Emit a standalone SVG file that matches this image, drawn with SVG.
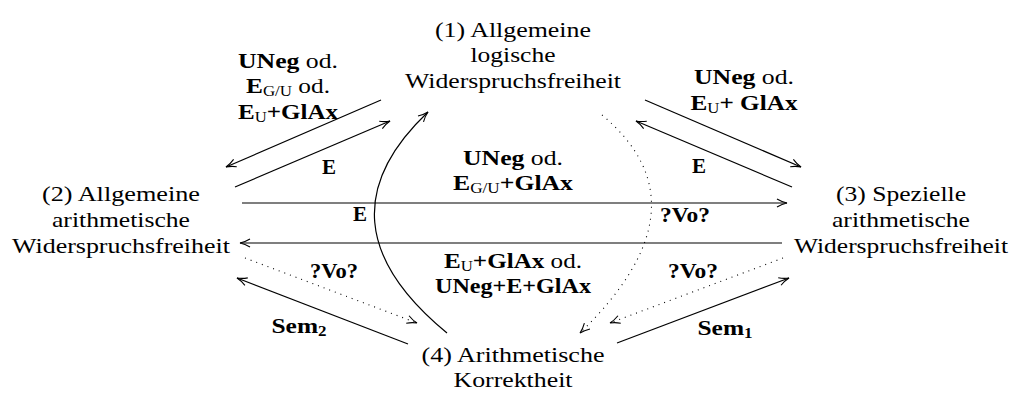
<svg xmlns="http://www.w3.org/2000/svg" width="1019" height="396" viewBox="0 0 1019 396">
<style>
.n{font-family:"Liberation Serif",serif;font-size:22px;text-anchor:middle;fill:#000}
.l{font-family:"Liberation Serif",serif;font-size:21px;font-weight:bold;text-anchor:middle;fill:#000}
.r{font-weight:normal}
.s{font-size:14px}
.ln{stroke:#000;stroke-width:1.2;fill:none}
.dt{stroke:#000;stroke-width:1.1;stroke-dasharray:1 5;fill:none}
</style>
<defs>
<marker id="ah" viewBox="0 0 12 10" refX="11" refY="5" markerWidth="12" markerHeight="10" orient="auto" markerUnits="userSpaceOnUse">
<path d="M1,1 Q6,4 11,5 Q6,6 1,9" fill="none" stroke="#000" stroke-width="1.1"/>
</marker>
</defs>
<rect width="1019" height="396" fill="#fff"/>
<g id="connectors">
<path class="ln" d="M381,100 L226,167" marker-end="url(#ah)"/>
<path class="ln" d="M235,187 L390,121" marker-end="url(#ah)"/>
<path class="ln" d="M645,100 L801,167" marker-end="url(#ah)"/>
<path class="ln" d="M792,187 L636,121" marker-end="url(#ah)"/>
<path class="ln" d="M242,203 L787,203" marker-end="url(#ah)"/>
<path class="ln" d="M782,243 L240,243" marker-end="url(#ah)"/>
<path class="ln" d="M447,333 Q312,222 428,112" marker-end="url(#ah)"/>
<path class="dt" d="M602,115 Q711,206 580,333" marker-end="url(#ah)"/>
<path class="ln" d="M408,344 L237,278" marker-end="url(#ah)"/>
<path class="dt" d="M245,258 L417,323" marker-end="url(#ah)"/>
<path class="ln" d="M617,343 L789,278" marker-end="url(#ah)"/>
<path class="dt" d="M783,258 L610,323" marker-end="url(#ah)"/>
</g>
<g id="labels">
<text class="l" x="288" y="68" textLength="100" lengthAdjust="spacingAndGlyphs">UNeg<tspan class="r"> od.</tspan></text>
<text class="l" x="288" y="93" textLength="84" lengthAdjust="spacingAndGlyphs">E<tspan class="s r" dy="3">G/U</tspan><tspan class="r" dy="-3"> od.</tspan></text>
<text class="l" x="288" y="119" textLength="100" lengthAdjust="spacingAndGlyphs">E<tspan class="s r" dy="3">U</tspan><tspan dy="-3">+GlAx</tspan></text>
<text class="l" x="329" y="174">E</text>
<text class="l" x="744" y="84" textLength="100" lengthAdjust="spacingAndGlyphs">UNeg<tspan class="r"> od.</tspan></text>
<text class="l" x="744" y="110" textLength="107" lengthAdjust="spacingAndGlyphs">E<tspan class="s r" dy="3">U</tspan><tspan dy="-3">+ GlAx</tspan></text>
<text class="l" x="699" y="173">E</text>
<text class="l" x="513" y="165" textLength="100" lengthAdjust="spacingAndGlyphs">UNeg<tspan class="r"> od.</tspan></text>
<text class="l" x="513" y="190" textLength="120" lengthAdjust="spacingAndGlyphs">E<tspan class="s r" dy="3">G/U</tspan><tspan dy="-3">+GlAx</tspan></text>
<text class="l" x="360" y="221">E</text>
<text class="l" x="685" y="222" textLength="50" lengthAdjust="spacingAndGlyphs">?Vo?</text>
<text class="l" x="513" y="268" textLength="138" lengthAdjust="spacingAndGlyphs">E<tspan class="s r" dy="3">U</tspan><tspan dy="-3">+GlAx</tspan><tspan class="r"> od.</tspan></text>
<text class="l" x="513" y="293" textLength="156" lengthAdjust="spacingAndGlyphs">UNeg+E+GlAx</text>
<text class="l" x="334" y="278" textLength="48" lengthAdjust="spacingAndGlyphs">?Vo?</text>
<text class="l" x="693" y="278" textLength="50" lengthAdjust="spacingAndGlyphs">?Vo?</text>
<text class="l" x="299" y="333" textLength="55" lengthAdjust="spacingAndGlyphs">Sem<tspan class="s" dy="3">2</tspan></text>
<text class="l" x="725" y="335" textLength="55" lengthAdjust="spacingAndGlyphs">Sem<tspan class="s" dy="3">1</tspan></text>
</g>
<g id="node1">
<text class="n" x="513" y="37" textLength="156" lengthAdjust="spacingAndGlyphs">(1) Allgemeine</text>
<text class="n" x="513" y="62" textLength="85" lengthAdjust="spacingAndGlyphs">logische</text>
<text class="n" x="513" y="88" textLength="216" lengthAdjust="spacingAndGlyphs">Widerspruchsfreiheit</text>
</g>
<g id="node2">
<text class="n" x="121" y="201" textLength="158" lengthAdjust="spacingAndGlyphs">(2) Allgemeine</text>
<text class="n" x="121" y="227" textLength="138" lengthAdjust="spacingAndGlyphs">arithmetische</text>
<text class="n" x="121" y="253" textLength="218" lengthAdjust="spacingAndGlyphs">Widerspruchsfreiheit</text>
</g>
<g id="node3">
<text class="n" x="901" y="201" textLength="130" lengthAdjust="spacingAndGlyphs">(3) Spezielle</text>
<text class="n" x="901" y="227" textLength="138" lengthAdjust="spacingAndGlyphs">arithmetische</text>
<text class="n" x="901" y="253" textLength="214" lengthAdjust="spacingAndGlyphs">Widerspruchsfreiheit</text>
</g>
<g id="node4">
<text class="n" x="513" y="362" textLength="183" lengthAdjust="spacingAndGlyphs">(4) Arithmetische</text>
<text class="n" x="513" y="387" textLength="119" lengthAdjust="spacingAndGlyphs">Korrektheit</text>
</g>
</svg>
